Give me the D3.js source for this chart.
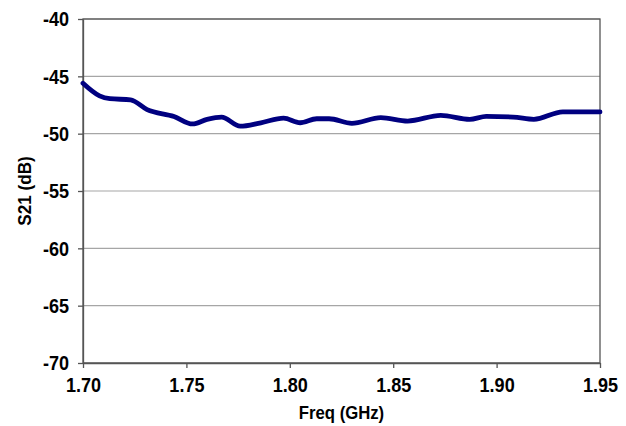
<!DOCTYPE html>
<html lang='en'>
<head>
	<meta charset='utf-8'>
	<script type='text/javascript' src='https://d3js.org/d3.v7.min.js'></script>
	<style type='text/css'>
		body{
			margin:0;
			background:#fff;
		}
		text{
			font-family:'Liberation Sans', Arial, sans-serif;
			font-weight:bold;
			fill:#000;
		}
		.tick text{
			font-size:21px;
		}
		.axis-title{
			font-size:19px;
		}
	</style>
</head>
<body>
	<div id='chart'></div>

	<script type='text/javascript'>
		//readings
		var freq = [1.700, 1.708, 1.713, 1.723, 1.731, 1.744, 1.753, 1.760, 1.767, 1.776, 1.786, 1.797, 1.805,
					1.813, 1.819, 1.830, 1.844, 1.857, 1.873, 1.887, 1.895, 1.908, 1.918, 1.932, 1.950];
		var s21 = [-45.6, -46.7, -46.95, -47.05, -47.9, -48.5, -49.15, -48.75, -48.55, -49.35, -49.05, -48.65, -49.05,
					-48.7, -48.7, -49.1, -48.6, -48.9, -48.4, -48.75, -48.5, -48.55, -48.75, -48.1, -48.1];

		var xTicks = [1.70, 1.75, 1.80, 1.85, 1.90, 1.95];
		var yTicks = [-70, -65, -60, -55, -50, -45, -40];

		var width = 626,
			height = 426;
		var margin = {top:19, right:26, bottom:63, left:83};
		var w = width - margin.left - margin.right,
			h = height - margin.top - margin.bottom;

		//no condensed face installed, so squeeze the text sideways
		var squeeze = 0.86;

		var svg = d3.select('#chart')
			.append('svg')
			.attr('width', width)
			.attr('height', height);

		var g = svg.append('g')
			.attr('transform', 'translate(' + margin.left + ',' + margin.top + ')');

		var x = d3.scaleLinear().domain([1.70, 1.95]).range([0, w]);
		var y = d3.scaleLinear().domain([-70, -40]).range([h, 0]);

		//gridlines
		g.selectAll('.grid')
			.data(yTicks)
			.enter()
			.append('line')
			.attr('class', 'grid')
			.attr('x1', 0)
			.attr('x2', w)
			.attr('y1', function(d){ return y(d); })
			.attr('y2', function(d){ return y(d); })
			.style('stroke', '#a6a6a6')
			.style('stroke-width', 1.2);

		//plot border
		g.append('rect')
			.attr('x', 0)
			.attr('y', 0)
			.attr('width', w)
			.attr('height', h)
			.style('fill', 'none')
			.style('stroke', '#555')
			.style('stroke-width', 1.3);

		//axes (plain hyphen for the minus sign, as in the original)
		var xAxis = g.append('g')
			.attr('transform', 'translate(0,' + h + ')')
			.call(d3.axisBottom(x).tickValues(xTicks).tickFormat(d3.format('.2f')).tickSizeInner(5).tickSizeOuter(0).tickPadding(9));
		var yAxis = g.append('g')
			.call(d3.axisLeft(y).tickValues(yTicks).tickFormat(function(d){ return String(d); }).tickSizeInner(5).tickSizeOuter(0).tickPadding(9));

		[xAxis, yAxis].forEach(function(a){
			a.attr('font-family', null).attr('font-size', null);
			a.select('.domain').style('stroke', '#555').style('stroke-width', 1.3);
			a.selectAll('.tick line').style('stroke', '#555').style('stroke-width', 1.3);
			a.selectAll('.tick text')
				.attr('fill', '#000')
				.attr('x', function(){ return (+d3.select(this).attr('x') || 0) / squeeze; })
				.attr('transform', 'scale(' + squeeze + ',1)');
		});

		//trace
		var line = d3.line()
			.x(function(d, i){ return x(freq[i]); })
			.y(function(d){ return y(d); })
			.curve(d3.curveMonotoneX);

		g.append('path')
			.datum(s21)
			.attr('d', line)
			.style('fill', 'none')
			.style('stroke', '#000080')
			.style('stroke-width', 4.8)
			.style('stroke-linejoin', 'round')
			.style('stroke-linecap', 'round');

		//axis titles
		svg.append('text')
			.attr('class', 'axis-title')
			.attr('transform', 'translate(' + (margin.left + w / 2) + ',419) scale(0.88,1)')
			.attr('text-anchor', 'middle')
			.text('Freq (GHz)');

		svg.append('text')
			.attr('class', 'axis-title')
			.attr('transform', 'translate(31,' + (margin.top + h / 2) + ') rotate(-90) scale(0.9,1)')
			.attr('text-anchor', 'middle')
			.text('S21 (dB)');
	</script>
</body>
</html>
